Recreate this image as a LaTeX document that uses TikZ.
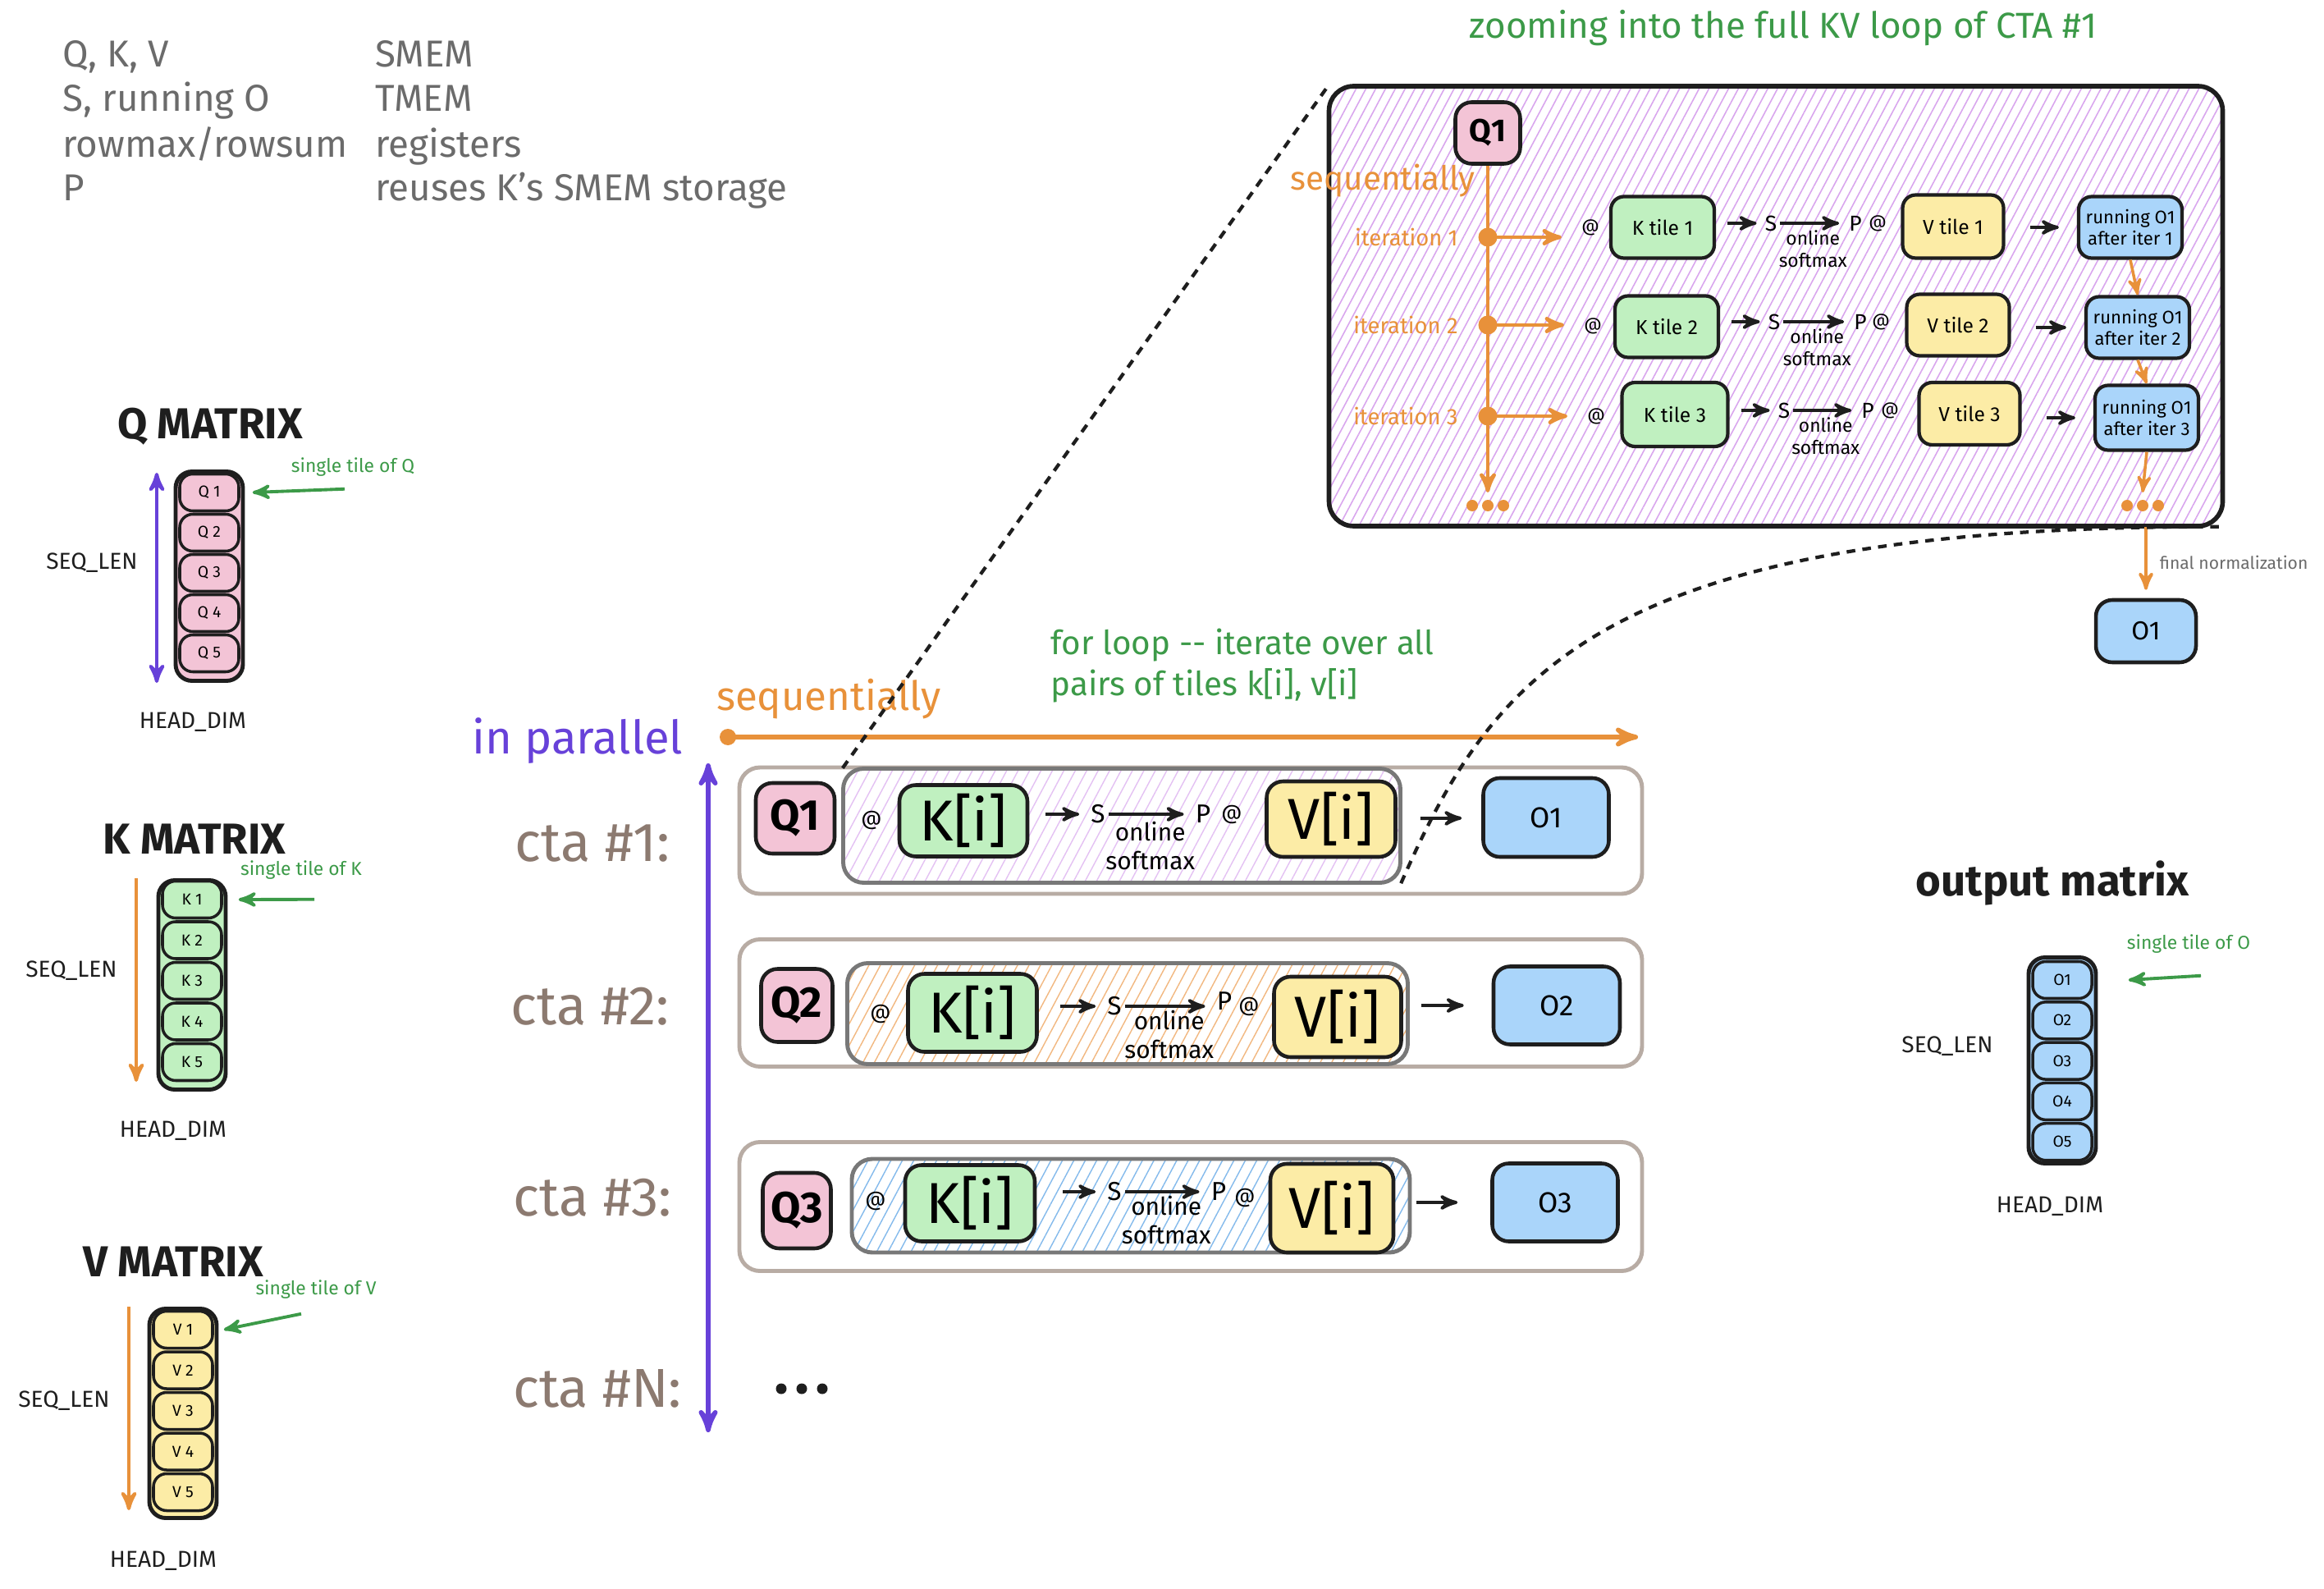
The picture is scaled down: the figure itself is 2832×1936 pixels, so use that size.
\documentclass[tikz,border=0pt]{standalone}
\usepackage{fontspec}
\setmainfont{Fira Sans}
\usetikzlibrary{positioning,arrows,calc,patterns.meta}

\definecolor{ink}{HTML}{1E1E1E}
\definecolor{qpink}{HTML}{F3C4D6}
\definecolor{kgreen}{HTML}{C0F0C0}
\definecolor{vyellow}{HTML}{FCECA6}
\definecolor{oblue}{HTML}{AAD5FA}
\definecolor{seqorange}{HTML}{E8913A}
\definecolor{parpurple}{HTML}{6741D9}
\definecolor{notegreen}{HTML}{3C9A48}
\definecolor{ctabrown}{HTML}{8C7A70}
\definecolor{rowgray}{HTML}{B8ACA4}
\definecolor{legendgray}{HTML}{6B6B6B}
\definecolor{hatchpurple}{HTML}{D9A6EE}
\definecolor{hatchorange}{HTML}{F2B880}
\definecolor{hatchblue}{HTML}{84BAEC}

\begin{document}
\begin{tikzpicture}[
      x=0.1mm, y=-0.1mm,
      >=stealth'
    ]

    \tikzstyle{tile} = [rectangle, rounded corners=1.6mm, draw=ink, line width=1pt, inner sep=0pt, minimum width=7.2mm, minimum height=4.5mm, font=\fontsize{5.5}{6}\selectfont]
    \tikzstyle{column} = [rectangle, rounded corners=2mm, draw=ink, line width=1.4pt, inner sep=0pt, minimum width=8.2mm, minimum height=25.5mm]
    \tikzstyle{matrixtitle} = [font=\bfseries\fontsize{15}{17}\selectfont, text=ink]
    \tikzstyle{dimlabel} = [font=\fontsize{8}{9}\selectfont, text=ink]
    \tikzstyle{note} = [font=\fontsize{6.5}{7}\selectfont, text=notegreen]
    \tikzstyle{notearrow} = [->, draw=notegreen, line width=1.1pt]
    \tikzstyle{dimarrow} = [->, draw=seqorange, line width=1.2pt]
    \tikzstyle{legend} = [anchor=west, font=\fontsize{13}{15}\selectfont, text=legendgray, text height=2.1ex, text depth=0.6ex]
    \tikzstyle{ctalabel} = [font=\fontsize{19}{21}\selectfont, text=ctabrown]
    \tikzstyle{rowbox} = [rectangle, rounded corners=2.5mm, draw=rowgray, line width=1.4pt, inner sep=0pt, minimum width=110mm]
    \tikzstyle{loopbox} = [rectangle, rounded corners=2.5mm, draw=ink!60, line width=1.4pt, inner sep=0pt, minimum width=68mm]
    \tikzstyle{bigtile} = [rectangle, rounded corners=2mm, draw=ink, line width=1.3pt, inner sep=0pt, font=\fontsize{20}{22}\selectfont]
    \tikzstyle{qtile} = [bigtile, fill=qpink, font=\bfseries\fontsize{15}{17}\selectfont]
    \tikzstyle{otile} = [bigtile, fill=oblue, font=\fontsize{10}{12}\selectfont]
    \tikzstyle{mul} = [font=\fontsize{7}{8}\selectfont, inner sep=1pt]
    \tikzstyle{sym} = [font=\fontsize{9}{10}\selectfont, inner sep=1pt]
    \tikzstyle{softlabel} = [below, align=center, font=\fontsize{8.5}{10}\selectfont, inner sep=2pt]
    \tikzstyle{flow} = [->, draw=ink, line width=1.1pt]
    \tikzstyle{ztile} = [rectangle, rounded corners=1.6mm, draw=ink, line width=1.2pt, inner sep=0pt, minimum width=12.6mm, minimum height=7.5mm, font=\fontsize{7}{8}\selectfont]
    \tikzstyle{zrun} = [ztile, fill=oblue, align=center, font=\fontsize{6.3}{7.5}\selectfont]
    \tikzstyle{zmul} = [font=\fontsize{6}{7}\selectfont, inner sep=1pt]
    \tikzstyle{zsym} = [font=\fontsize{7.5}{8}\selectfont, inner sep=1pt]
    \tikzstyle{zsoft} = [below, align=center, font=\fontsize{6.5}{7.5}\selectfont, inner sep=2pt]
    \tikzstyle{iterlabel} = [font=\fontsize{7.8}{8}\selectfont, text=seqorange]
    \tikzstyle{seqline} = [->, draw=seqorange, line width=1.3pt]
    \tikzstyle{zoomline} = [draw=ink, line width=1.2pt, dash pattern=on 3pt off 2.5pt]

    \path[use as bounding box, fill=white] (0,0) rectangle (2832,1936);

    % legend
    \node[legend] (lg1) at (64,68) {Q, K, V};
    \node[legend] (lg2) at (64,122) {S, running O};
    \node[legend] (lg3) at (64,178) {rowmax/rowsum};
    \node[legend] (lg4) at (64,231) {P};
    \node[legend] (lm1) at (445,68) {SMEM};
    \node[legend] (lm2) at (445,122) {TMEM};
    \node[legend] (lm3) at (445,178) {registers};
    \node[legend] (lm4) at (445,231) {reuses K's SMEM storage};

    % Q matrix
    \node[matrixtitle] (qtitle) at (256,520) {Q MATRIX};
    \node[column, fill=qpink] (qcol) at (255,702) {};
    \foreach \i in {1,...,5}
      \node[tile, fill=qpink] (q\i) at (255,{600+49*(\i-1)}) {Q \i};
    \draw[<->, parpurple, line width=1.2pt] ([xshift=-6.4mm,yshift=-0.4mm]qcol.north) -- ([xshift=-6.4mm]qcol.south);
    \node[dimlabel] (qseq) at (112,686) {SEQ\_LEN};
    \node[dimlabel] (qhead) at (235,880) {HEAD\_DIM};
    \node[note] (qnote) at (430,569) {single tile of Q};
    \draw[notearrow] ([xshift=-1mm,yshift=-0.3mm]qnote.south) -- ([xshift=1.5mm]q1.east);

    % K matrix
    \node[matrixtitle] (ktitle) at (237,1022) {K MATRIX};
    \node[column, fill=kgreen] (kcol) at (234,1200) {};
    \foreach \i in {1,...,5}
      \node[tile, fill=kgreen] (k\i) at (234,{1096+49.5*(\i-1)}) {K \i};
    \draw[dimarrow] ([xshift=-6.8mm]kcol.north) -- ([xshift=-6.8mm,yshift=1.2mm]kcol.south);
    \node[dimlabel] (kseq) at (87,1183) {SEQ\_LEN};
    \node[dimlabel] (khead) at (211,1378) {HEAD\_DIM};
    \node[note] (knote) at (367,1060) {single tile of K};
    \draw[notearrow] ([xshift=1.6mm,yshift=-1.2mm]knote.south) -- ([xshift=1.9mm]k1.east);

    % V matrix
    \node[matrixtitle] (vtitle) at (211,1537) {V MATRIX};
    \node[column, fill=vyellow] (vcol) at (223,1722) {};
    \foreach \i in {1,...,5}
      \node[tile, fill=vyellow] (v\i) at (223,{1620+49.5*(\i-1)}) {V \i};
    \draw[dimarrow] ([xshift=-6.6mm]vcol.north) -- ([xshift=-6.6mm,yshift=1.2mm]vcol.south);
    \node[dimlabel] (vseq) at (78,1707) {SEQ\_LEN};
    \node[dimlabel] (vhead) at (199,1902) {HEAD\_DIM};
    \node[note] (vnote) at (385,1571) {single tile of V};
    \draw[notearrow] ([xshift=-1.8mm,yshift=-0.6mm]vnote.south) -- ([xshift=1.2mm]v1.east);

    % output matrix
    \node[matrixtitle] (otitle) at (2501,1076) {output matrix};
    \node[column, fill=oblue, minimum height=25.1mm] (ocol) at (2513,1292) {};
    \foreach \i in {1,...,5}
      \node[tile, fill=oblue] (o\i) at (2513,{1194+49.3*(\i-1)}) {O\i};
    \node[dimlabel] (oseq) at (2373,1275) {SEQ\_LEN};
    \node[dimlabel] (ohead) at (2498,1470) {HEAD\_DIM};
    \node[note] (onote) at (2667,1150) {single tile of O};
    \draw[notearrow] ([xshift=1.5mm,yshift=-1.5mm]onote.south) -- ([xshift=4.3mm]o1.east);

    % parallel / sequential axes
    \node[font=\fontsize{16}{18}\selectfont, text=parpurple] (parlabel) at (704,903) {in parallel};
    \node[font=\fontsize{14}{16}\selectfont, text=seqorange] (seqlabel) at (1010,852) {sequentially};
    \node[anchor=west, align=left, font=\fontsize{11.5}{14}\selectfont, text=notegreen] (forloop) at (1268,811) {for loop {-}{-} iterate over all\\pairs of tiles k[i], v[i]};
    \coordinate (seqstart) at (887,898);
    \coordinate (seqend) at (1996,898);
    \fill[seqorange] (seqstart) circle (1mm);
    \draw[seqline, line width=1.6pt] (seqstart) -- (seqend);
    \coordinate (partop) at (863,930);
    \coordinate (parbot) at (863,1745);
    \draw[<->, parpurple, line width=1.6pt] (parbot) -- (partop);

    \node[ctalabel] (cta1) at (722,1028) {cta \#1:};
    \node[ctalabel] (cta2) at (719,1226) {cta \#2:};
    \node[ctalabel] (cta3) at (722,1459) {cta \#3:};
    \node[ctalabel] (ctan) at (728,1692) {cta \#N:};
    \foreach \dx in {-25,0,25}
      \fill[ink] ($(977,1692)+(\dx,0)$) circle (0.65mm);

    % cta #1
    \node[rowbox, minimum height=15.4mm] (row1) at (1451,1012) {};
    \node[loopbox, minimum width=67.9mm, minimum height=13.9mm, pattern={Lines[angle=62,distance=3.5pt,line width=0.4pt]}, pattern color=hatchpurple!70] (loop1) at (1367,1006) {};
    \node[qtile, minimum width=9.6mm, minimum height=8.6mm] (cq1) at (969,997) {Q1};
    \node[mul] (at1) at (1062,999) {@};
    \node[bigtile, fill=kgreen, minimum width=15.6mm, minimum height=8.7mm] (ck1) at (1174,1000) {K[i]};
    \node[sym] (cs1) at (1338,992) {S};
    \node[sym] (cp1) at (1466,992) {P};
    \node[mul] (mul1) at (1501,992) {@};
    \node[bigtile, fill=vyellow, minimum width=15.7mm, minimum height=9.2mm] (cv1) at (1622,998) {V[i]};
    \node[otile, minimum width=15.3mm, minimum height=9.6mm] (co1) at (1884,996) {O1};
    \draw[flow, shorten <=2mm, shorten >=1mm] (ck1.east |- cs1) -- (cs1);
    \draw[flow, shorten >=1mm] (cs1) -- node[softlabel] {online\\softmax} (cp1);
    \draw[flow, shorten <=2.8mm, shorten >=2.4mm] (cv1) -- (co1);

    % cta #2
    \node[rowbox, minimum height=15.5mm] (row2) at (1451,1222) {};
    \node[loopbox, minimum width=68.3mm, minimum height=12.3mm, pattern={Lines[angle=62,distance=3.5pt,line width=0.4pt]}, pattern color=hatchorange] (loop2) at (1374,1235) {};
    \node[qtile, minimum width=8.7mm, minimum height=8.9mm] (cq2) at (971,1225) {Q2};
    \node[mul] (at2) at (1073,1235) {@};
    \node[bigtile, fill=kgreen, minimum width=15.7mm, minimum height=9.5mm] (ck2) at (1185,1234) {K[i]};
    \node[sym] (cs2) at (1358,1226) {S};
    \node[sym] (cp2) at (1492,1220) {P};
    \node[mul] (mul2) at (1522,1226) {@};
    \node[bigtile, fill=vyellow, minimum width=15.5mm, minimum height=9.8mm] (cv2) at (1630,1239) {V[i]};
    \node[otile, minimum width=15.4mm, minimum height=9.5mm] (co2) at (1897,1225) {O2};
    \draw[flow, shorten <=2.6mm, shorten >=1mm] (ck2.east |- cs2) -- (cs2);
    \draw[flow, shorten >=1mm] (cs2) -- node[softlabel, inner sep=1pt] {online\\softmax} (cp2.west |- cs2);
    \draw[flow, shorten <=2.2mm, shorten >=3.4mm] (cv2.east |- co2) -- (co2);

    % cta #3
    \node[rowbox, minimum height=15.7mm] (row3) at (1451,1470) {};
    \node[loopbox, minimum width=68mm, minimum height=11.4mm, pattern={Lines[angle=62,distance=3.5pt,line width=0.4pt]}, pattern color=hatchblue] (loop3) at (1378,1469) {};
    \node[qtile, minimum width=8.3mm, minimum height=9.2mm] (cq3) at (971,1475) {Q3};
    \node[mul] (at3) at (1067,1463) {@};
    \node[bigtile, fill=kgreen, minimum width=15.8mm, minimum height=9.3mm] (ck3) at (1182,1466) {K[i]};
    \node[sym] (cs3) at (1358,1452) {S};
    \node[sym] (cp3) at (1485,1452) {P};
    \node[mul] (mul3) at (1517,1459) {@};
    \node[bigtile, fill=vyellow, minimum width=15mm, minimum height=10.8mm] (cv3) at (1623,1472) {V[i]};
    \node[otile, minimum width=15.3mm, minimum height=9.5mm] (co3) at (1895,1465) {O3};
    \draw[flow, shorten <=3.2mm, shorten >=1mm] (ck3.east |- cs3) -- (cs3);
    \draw[flow, shorten >=1mm] (cs3) -- node[softlabel, inner sep=1pt] {online\\softmax} (cp3);
    \draw[flow, shorten <=2.6mm, shorten >=4mm] (cv3.east |- co3) -- (co3);

    % zoom into the KV loop of cta #1
    \node[font=\fontsize{12.5}{14}\selectfont, text=notegreen] (zoomtitle) at (2173,34) {zooming into the full KV loop of CTA \#1};
    \node[rectangle, rounded corners=3mm, draw=ink, line width=1.6pt, minimum width=108.9mm, minimum height=53.6mm, pattern={Lines[angle=62,distance=3pt,line width=0.45pt]}, pattern color=hatchpurple] (zoom) at (2164,373) {};
    \node[qtile, minimum width=7.9mm, minimum height=7.5mm, font=\bfseries\fontsize{11}{12}\selectfont] (zq) at (1813,162) {Q1};
    \node[font=\fontsize{11.5}{13}\selectfont, text=seqorange] (zseq) at (1685,220) {sequentially};
    \coordinate (it1) at (1813,289);
    \coordinate (it2) at (1813,396);
    \coordinate (it3) at (1813,507);
    \coordinate (zqdots) at (1813,616);
    \coordinate (zodots) at (2611,616);
    \draw[seqline] (zq.south) -- ([yshift=1.6mm]zqdots);
    \foreach \p in {it1,it2,it3}
      \fill[seqorange] (\p) circle (1.15mm);
    \node[iterlabel, left=2.4mm of it1] (itl1) {iteration 1};
    \node[iterlabel, left=2.4mm of it2] (itl2) {iteration 2};
    \node[iterlabel, left=2.4mm of it3] (itl3) {iteration 3};

    \node[zmul] (zat1) at (1938,277) {@};
    \node[ztile, fill=kgreen] (zk1) at (2026,277) {K tile 1};
    \node[zsym] (zs1) at (2158,272) {S};
    \node[zsym] (zp1) at (2261,272) {P};
    \node[zmul] (zmul1) at (2288,272) {@};
    \node[ztile, fill=vyellow, minimum width=12.3mm, minimum height=7.7mm] (zv1) at (2380,276) {V tile 1};
    \node[zrun] (zo1) at (2596,277) {running O1\\after iter 1};

    \node[zmul] (zat2) at (1941,397) {@};
    \node[ztile, fill=kgreen] (zk2) at (2031,398) {K tile 2};
    \node[zsym] (zs2) at (2162,392) {S};
    \node[zsym] (zp2) at (2267,392) {P};
    \node[zmul] (zmul2) at (2292,392) {@};
    \node[ztile, fill=vyellow, minimum width=12.5mm] (zv2) at (2386,396) {V tile 2};
    \node[zrun] (zo2) at (2605,399) {running O1\\after iter 2};

    \node[zmul] (zat3) at (1945,507) {@};
    \node[ztile, fill=kgreen, minimum width=12.9mm, minimum height=7.8mm] (zk3) at (2041,505) {K tile 3};
    \node[zsym] (zs3) at (2174,500) {S};
    \node[zsym] (zp3) at (2276,500) {P};
    \node[zmul] (zmul3) at (2303,500) {@};
    \node[ztile, fill=vyellow, minimum width=12.3mm, minimum height=7.6mm] (zv3) at (2400,504) {V tile 3};
    \node[zrun, minimum height=7.9mm] (zo3) at (2616,509) {running O1\\after iter 3};

    \draw[seqline, shorten >=2mm] (it1) -- (it1 -| zat1.west);
    \draw[seqline, shorten >=2mm] (it2) -- (it2 -| zat2.west);
    \draw[seqline, shorten >=2mm] (it3) -- (it3 -| zat3.west);
    \draw[flow, shorten <=1.4mm, shorten >=0.6mm] (zk1.east |- zs1) -- (zs1);
    \draw[flow, shorten <=1.4mm, shorten >=0.6mm] (zk2.east |- zs2) -- (zs2);
    \draw[flow, shorten <=1.4mm, shorten >=0.6mm] (zk3.east |- zs3) -- (zs3);
    \draw[flow, shorten >=0.8mm] (zs1) -- node[zsoft] {online\\softmax} (zp1);
    \draw[flow, shorten >=0.8mm] (zs2) -- node[zsoft] {online\\softmax} (zp2);
    \draw[flow, shorten >=0.8mm] (zs3) -- node[zsoft] {online\\softmax} (zp3);
    \draw[flow, shorten <=3mm, shorten >=2.2mm] (zv1.east |- zo1) -- (zo1);
    \draw[flow, shorten <=3mm, shorten >=2.2mm] (zv2.east |- zo2) -- (zo2);
    \draw[flow, shorten <=3mm, shorten >=2.2mm] (zv3.east |- zo3) -- (zo3);
    \draw[seqline, line width=1pt] (zo1.south) -- (zo2.north);
    \draw[seqline, line width=1pt] (zo2.south) -- (zo3.north);
    \draw[seqline, line width=1pt] (zo3.south) -- ([yshift=1.6mm]zodots);
    \foreach \dx in {-19,0,19} {
      \fill[seqorange] ($(zqdots)+(\dx,0)$) circle (0.7mm);
      \fill[seqorange] ($(zodots)+(\dx,0)$) circle (0.7mm);
    }

    % final normalization
    \node[otile, minimum width=12.2mm, minimum height=7.6mm, font=\fontsize{9}{10}\selectfont] (ofin) at (2615,769) {O1};
    \draw[seqline, line width=1.1pt, shorten >=1mm] (ofin.north |- zoom.south) -- node[right, font=\fontsize{6}{7}\selectfont, text=legendgray, inner sep=1.5mm] {final normalization} (ofin.north);

    % zoom lines
    \draw[zoomline] (loop1.north west) -- (zoom.north west);
    \draw[zoomline] (loop1.south east) .. controls (1820,820) and (1950,640) .. (zoom.south east);

\end{tikzpicture}
\end{document}
